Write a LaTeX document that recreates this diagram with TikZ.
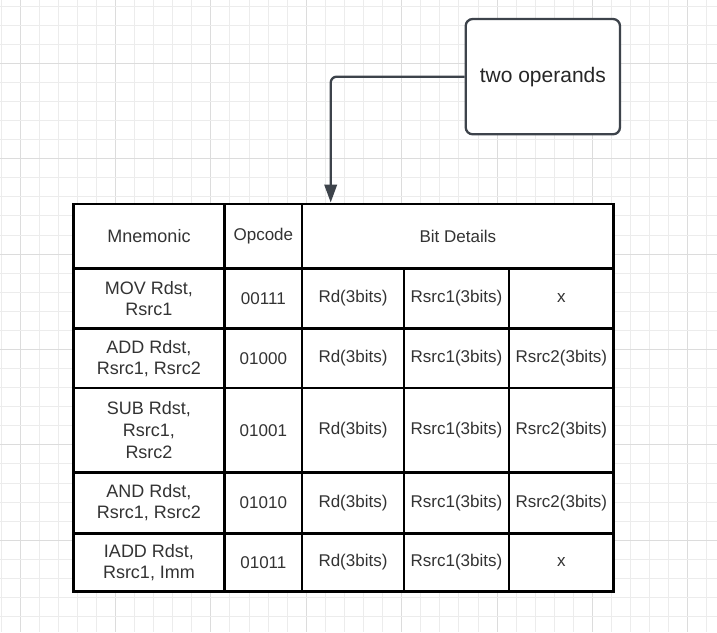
\documentclass[tikz,border=0pt]{standalone}
\usepackage{fontspec}
\setmainfont{Liberation Sans}
\usetikzlibrary{arrows.meta}
\definecolor{gridminor}{HTML}{ECECEC}
\definecolor{gridmajor}{HTML}{DCDCDC}
\definecolor{boxline}{HTML}{3D434B}
\definecolor{txt}{HTML}{333333}
\tikzset{
  cellbox/.style={draw=black, line width=2.6pt, fill=white, rectangle, inner sep=0pt, outer sep=0pt,
    align=center, text=txt, font=\fontsize{17}{21}\selectfont},
  mnemcell/.style={font=\fontsize{18}{21}\selectfont},
  calloutbox/.style={draw=boxline, line width=2.3pt, fill=white, rounded corners=7pt, inner sep=0pt,
    minimum width=154.3pt, minimum height=115.3pt, text=black!85, font=\fontsize{21}{25}\selectfont},
  connector/.style={draw=boxline, line width=2.3pt, rounded corners=6pt,
    -{Triangle[width=12.5pt,length=18pt]}},
}
\newcommand\tcell[7][]{\node[cellbox, #1, minimum width={(#5-#3)*1pt}, minimum height={(#6-#4)*1pt}] (#2) at ({(#3+#5)/2},{(#4+#6)/2}) {#7};}
\begin{document}
\begin{tikzpicture}[x=1pt,y=-1pt]
\useasboundingbox (0,0) rectangle (717,632);
\fill[white] (0,0) rectangle (717,632);
% grid
\foreach \k in {0,...,37}{
  \pgfmathtruncatemacro\m{mod(\k,5)}
  \ifnum\m=1 \def\gc{gridmajor}\else\def\gc{gridminor}\fi
  \draw[\gc, line width=1pt] ({1+19.08*\k},0) -- ({1+19.08*\k},632);
}
\foreach \k in {0,...,32}{
  \pgfmathtruncatemacro\m{mod(\k,5)}
  \ifnum\m=3 \def\gc{gridmajor}\else\def\gc{gridminor}\fi
  \draw[\gc, line width=1pt] (0,{6.06+19.08*\k}) -- (717,{6.06+19.08*\k});
}
% table
\def\cA{73.3}\def\cB{224.7}\def\cC{302}\def\cD{404}\def\cE{509}\def\cF{613.7}
\def\rA{204}\def\rB{268.5}\def\rC{328.3}\def\rD{388}\def\rE{472.7}\def\rF{533.3}\def\rG{591.5}
\tcell[mnemcell]{h1}{\cA}{\rA}{\cB}{\rB}{Mnemonic}
\tcell{h2}{\cB}{\rA}{\cC}{\rB}{Opcode}
\tcell{h3}{\cC}{\rA}{\cF}{\rB}{Bit Details}
% MOV
\tcell[mnemcell]{m1}{\cA}{\rB}{\cB}{\rC}{MOV Rdst,\\Rsrc1}
\tcell{m2}{\cB}{\rB}{\cC}{\rC}{00111}
\tcell{m3}{\cC}{\rB}{\cD}{\rC}{Rd(3bits)}
\tcell{m4}{\cD}{\rB}{\cE}{\rC}{Rsrc1(3bits)}
\tcell{m5}{\cE}{\rB}{\cF}{\rC}{x}
% ADD
\tcell[mnemcell]{a1}{\cA}{\rC}{\cB}{\rD}{ADD Rdst,\\Rsrc1, Rsrc2}
\tcell{a2}{\cB}{\rC}{\cC}{\rD}{01000}
\tcell{a3}{\cC}{\rC}{\cD}{\rD}{Rd(3bits)}
\tcell{a4}{\cD}{\rC}{\cE}{\rD}{Rsrc1(3bits)}
\tcell{a5}{\cE}{\rC}{\cF}{\rD}{Rsrc2(3bits)}
% SUB
\tcell[mnemcell]{s1}{\cA}{\rD}{\cB}{\rE}{SUB Rdst,\\[1pt]Rsrc1,\\[1pt]Rsrc2}
\tcell{s2}{\cB}{\rD}{\cC}{\rE}{01001}
\tcell{s3}{\cC}{\rD}{\cD}{\rE}{Rd(3bits)}
\tcell{s4}{\cD}{\rD}{\cE}{\rE}{Rsrc1(3bits)}
\tcell{s5}{\cE}{\rD}{\cF}{\rE}{Rsrc2(3bits)}
% AND
\tcell[mnemcell]{n1}{\cA}{\rE}{\cB}{\rF}{AND Rdst,\\Rsrc1, Rsrc2}
\tcell{n2}{\cB}{\rE}{\cC}{\rF}{01010}
\tcell{n3}{\cC}{\rE}{\cD}{\rF}{Rd(3bits)}
\tcell{n4}{\cD}{\rE}{\cE}{\rF}{Rsrc1(3bits)}
\tcell{n5}{\cE}{\rE}{\cF}{\rF}{Rsrc2(3bits)}
% IADD
\tcell[mnemcell]{i1}{\cA}{\rF}{\cB}{\rG}{IADD Rdst,\\Rsrc1, Imm}
\tcell{i2}{\cB}{\rF}{\cC}{\rG}{01011}
\tcell{i3}{\cC}{\rF}{\cD}{\rG}{Rd(3bits)}
\tcell{i4}{\cD}{\rF}{\cE}{\rG}{Rsrc1(3bits)}
\tcell{i5}{\cE}{\rF}{\cF}{\rG}{x}
% callout
\node[calloutbox] (callout) at (542.85,76.65) {two operands};
\coordinate (tip) at (330.7,202.5);
\draw[connector] (callout.west) -| (tip);
\end{tikzpicture}
\end{document}
